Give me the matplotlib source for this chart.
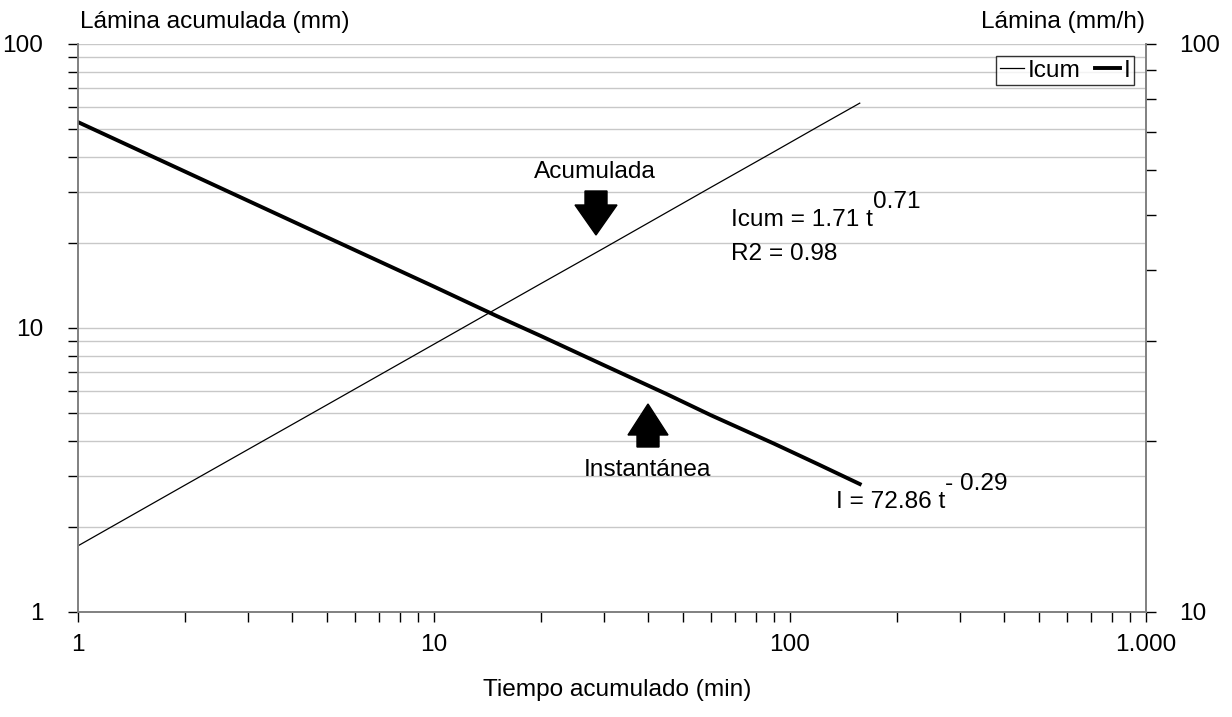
import matplotlib
matplotlib.use("Agg")
import matplotlib.pyplot as plt
from matplotlib.ticker import LogLocator, FixedLocator, NullFormatter, FixedFormatter
from matplotlib.patches import Polygon
import numpy as np

plt.rcParams['font.family'] = ['Liberation Sans', 'DejaVu Sans']

# Data
tiempo = [1, 2, 5, 10, 15, 20, 30, 45, 60, 90, 120, 157]
icum = [1.71, 2.80, 5.36, 8.77, 11.7, 14.35, 19.1, 25.5, 31.3, 41.7, 51.2, 61.9]
inst = [72.86, 59.6, 45.7, 37.4, 33.2, 30.6, 27.2, 24.2, 22.2, 19.8, 18.2, 16.8]
xticks = [1, 10, 100, 1000]
xticklabels = ["1", "10", "100", "1.000"]
yticks_left = [1, 10, 100]
yticks_right = [10, 100]

W, H = 1232, 717
fig = plt.figure(figsize=(W / 100, H / 100), dpi=100)
ax = fig.add_axes([78 / W, 1 - 612 / H, (1146 - 78) / W, (612 - 44) / H])
ax2 = ax.twinx()

FS = 17.6
grey = '#808080'

ax.set_xscale('log')
ax.set_yscale('log')
ax.set_xlim(1, 1000)
ax.set_ylim(1, 100)
ax2.set_yscale('log')
ax2.set_ylim(10, 100)

# gridlines
ax.yaxis.set_major_locator(FixedLocator(yticks_left))
ax.yaxis.set_minor_locator(LogLocator(base=10, subs=np.arange(2, 10)))
ax.yaxis.set_minor_formatter(NullFormatter())
ax.yaxis.set_major_formatter(FixedFormatter([str(v) for v in yticks_left]))
ax.grid(True, which='both', axis='y', color='#c8c8c8', lw=1.0)
ax.set_axisbelow(True)

ax.xaxis.set_major_locator(FixedLocator(xticks))
ax.xaxis.set_major_formatter(FixedFormatter(xticklabels))
ax.xaxis.set_minor_locator(LogLocator(base=10, subs=np.arange(2, 10)))
ax.xaxis.set_minor_formatter(NullFormatter())

ax2.yaxis.set_major_locator(FixedLocator(yticks_right))
ax2.yaxis.set_major_formatter(FixedFormatter([str(v) for v in yticks_right]))
ax2.yaxis.set_minor_locator(LogLocator(base=10, subs=np.arange(2, 10)))
ax2.yaxis.set_minor_formatter(NullFormatter())

for a in (ax, ax2):
    a.tick_params(which='both', direction='out', length=7, width=1, color='black', labelsize=FS)
    for s in a.spines.values():
        s.set_color(grey)
        s.set_linewidth(1.2)
    a.spines['top'].set_visible(False)
ax.tick_params(axis='x', which='both', pad=9)
ax.tick_params(axis='y', which='both', pad=18)
ax2.tick_params(axis='y', which='both', pad=17)

l1, = ax.plot(tiempo, icum, color='black', lw=0.9, label='Icum')
l2, = ax2.plot(tiempo, inst, color='black', lw=2.8, label='I')

# axis titles
fig.text(80 / W, 1 - 22 / H, 'Lámina acumulada (mm)', fontsize=FS, ha='left', va='center')
fig.text(1145 / W, 1 - 22 / H, 'Lámina (mm/h)', fontsize=FS, ha='right', va='center')
fig.text(617 / W, 1 - 690 / H, 'Tiempo acumulado (min)', fontsize=FS, ha='center', va='center')

# legend
leg = ax2.legend(handles=[l1, l2], loc='upper right', bbox_to_anchor=(1134 / W, 1 - 56 / H),
                 bbox_transform=fig.transFigure, ncol=2, fontsize=FS, frameon=True,
                 fancybox=False, handlelength=1.0, handletextpad=0.15, columnspacing=0.6,
                 borderpad=0.15, borderaxespad=0)
leg.get_frame().set_edgecolor('black')
leg.get_frame().set_linewidth(1.0)

# annotations
def fx(x):
    return x / W

def fy(y):
    return 1 - y / H

fig.text(fx(595), fy(172), 'Acumulada', fontsize=FS, ha='center', va='center')
down = [(585, 191), (607, 191), (607, 205), (617, 205), (596, 235), (575, 205), (585, 205)]
fig.patches.append(Polygon([(fx(x), fy(y)) for x, y in down], closed=True, transform=fig.transFigure,
                           facecolor='black', edgecolor='black'))

fig.text(fx(647), fy(470), 'Instantánea', fontsize=FS, ha='center', va='center')
up = [(637, 447), (659, 447), (659, 435), (668, 435), (648, 404), (628, 435), (637, 435)]
fig.patches.append(Polygon([(fx(x), fy(y)) for x, y in up], closed=True, transform=fig.transFigure,
                           facecolor='black', edgecolor='black'))

fig.text(fx(731), fy(220), 'Icum = 1.71 t', fontsize=FS, ha='left', va='center')
fig.text(fx(873), fy(202), '0.71', fontsize=FS, ha='left', va='center')
fig.text(fx(731), fy(254), 'R2 = 0.98', fontsize=FS, ha='left', va='center')
fig.text(fx(836), fy(502), 'I = 72.86 t', fontsize=FS, ha='left', va='center')
fig.text(fx(945), fy(484), '- 0.29', fontsize=FS, ha='left', va='center')

fig.savefig('out.png', dpi=100)
